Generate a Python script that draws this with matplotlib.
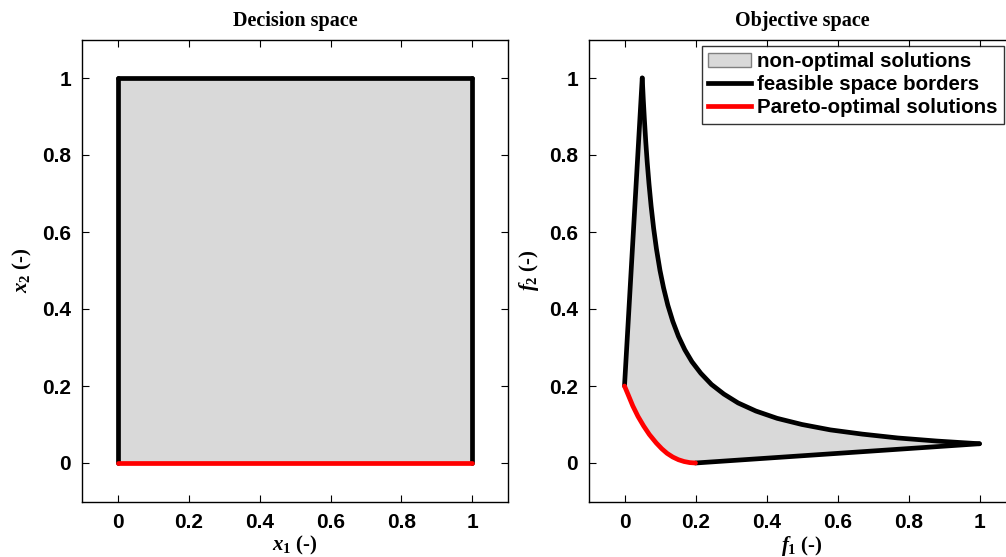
import matplotlib
matplotlib.use("Agg")
import matplotlib.pyplot as plt
from matplotlib.patches import Patch
from matplotlib.lines import Line2D

plt.rcParams['mathtext.fontset'] = 'custom'
plt.rcParams['mathtext.it'] = 'Liberation Serif:bold:italic'
plt.rcParams['mathtext.rm'] = 'Liberation Serif:bold'
plt.rcParams['mathtext.bf'] = 'Liberation Serif:bold'

# ---- Decision space data ----
dec_left_x = [0, 0]
dec_left_y = [0, 1]
dec_top_x = [0, 1]
dec_top_y = [1, 1]
dec_right_x = [1, 1]
dec_right_y = [1, 0]
dec_pareto_x = [0, 1]
dec_pareto_y = [0, 0]

# ---- Objective space data ----
obj_left_f1 = [0.0, 0.05]
obj_left_f2 = [0.2, 1.0]
obj_top_f1 = [0.05, 0.053, 0.056, 0.06, 0.064, 0.069, 0.075, 0.082, 0.09, 0.1,
              0.11, 0.122, 0.136, 0.152, 0.17, 0.19, 0.215, 0.245, 0.28, 0.32,
              0.37, 0.43, 0.5, 0.58, 0.67, 0.77, 0.88, 1.0]
obj_top_f2 = [1.0, 0.943, 0.893, 0.833, 0.781, 0.725, 0.667, 0.61, 0.556, 0.5,
              0.455, 0.41, 0.368, 0.329, 0.294, 0.263, 0.233, 0.204, 0.179, 0.156,
              0.135, 0.116, 0.1, 0.086, 0.075, 0.065, 0.057, 0.05]
obj_bottom_f1 = [1.0, 0.2]
obj_bottom_f2 = [0.05, 0.0]
obj_pareto_f1 = [0.0, 0.01, 0.0235, 0.038, 0.054, 0.07, 0.0895, 0.105, 0.12,
                 0.136, 0.152, 0.168, 0.184, 0.2]
obj_pareto_f2 = [0.2, 0.178, 0.148, 0.121, 0.096, 0.074, 0.052, 0.037, 0.025,
                 0.0155, 0.0085, 0.0038, 0.001, 0.0]

ticks = [0, 0.2, 0.4, 0.6, 0.8, 1]
tick_labels = ['0', '0.2', '0.4', '0.6', '0.8', '1']

GRAY = '#d9d9d9'
LW = 3.4

fig = plt.figure(figsize=(10.06, 5.57), dpi=100)
ax1 = fig.add_axes([82/1006, 1-501.5/557, 426/1006, 462/557])
ax2 = fig.add_axes([589/1006, 1-501.5/557, 426/1006, 462/557])

def style(ax):
    ax.set_xlim(-0.1, 1.1)
    ax.set_ylim(-0.1, 1.1)
    ax.set_xticks(ticks)
    ax.set_yticks(ticks)
    ax.set_xticklabels(tick_labels, fontfamily='Liberation Sans', fontweight='bold', fontsize=15)
    ax.set_yticklabels(tick_labels, fontfamily='Liberation Sans', fontweight='bold', fontsize=15)
    ax.tick_params(direction='in', top=True, right=True, length=5, width=0.8, pad=8)
    for s in ax.spines.values():
        s.set_linewidth(1.0)

lkw = dict(lw=LW, solid_capstyle='round', solid_joinstyle='round')

# Decision space
fx = dec_left_x + dec_top_x[1:] + dec_right_x[1:]
fy = dec_left_y + dec_top_y[1:] + dec_right_y[1:]
ax1.fill(fx, fy, color=GRAY, lw=0)
ax1.plot(dec_left_x, dec_left_y, color='k', **lkw)
ax1.plot(dec_top_x, dec_top_y, color='k', **lkw)
ax1.plot(dec_right_x, dec_right_y, color='k', **lkw)
ax1.plot(dec_pareto_x, dec_pareto_y, color='red', **lkw)
style(ax1)
ax1.set_title('Decision space', fontfamily='Liberation Serif', fontweight='bold', fontsize=14.5, pad=10)
ax1.set_xlabel(r'$x_1$ (-)', fontfamily='Liberation Serif', fontweight='bold', fontsize=15, labelpad=2)
ax1.set_ylabel(r'$x_2$ (-)', fontfamily='Liberation Serif', fontweight='bold', fontsize=15, labelpad=6)

# Objective space
px = obj_left_f1 + obj_top_f1[1:] + obj_bottom_f1[1:] + obj_pareto_f1[::-1][1:]
py = obj_left_f2 + obj_top_f2[1:] + obj_bottom_f2[1:] + obj_pareto_f2[::-1][1:]
ax2.fill(px, py, color=GRAY, lw=0)
ax2.plot(obj_left_f1, obj_left_f2, color='k', **lkw)
ax2.plot(obj_top_f1, obj_top_f2, color='k', **lkw)
ax2.plot(obj_bottom_f1, obj_bottom_f2, color='k', **lkw)
ax2.plot(obj_pareto_f1, obj_pareto_f2, color='red', **lkw)
style(ax2)
ax2.set_title('Objective space', fontfamily='Liberation Serif', fontweight='bold', fontsize=14.5, pad=10)
ax2.set_xlabel(r'$f_1$ (-)', fontfamily='Liberation Serif', fontweight='bold', fontsize=15, labelpad=2)
ax2.set_ylabel(r'$f_2$ (-)', fontfamily='Liberation Serif', fontweight='bold', fontsize=15, labelpad=6)

handles = [Patch(facecolor=GRAY, edgecolor='#7f7f7f', lw=1.0),
           Line2D([], [], color='k', lw=LW),
           Line2D([], [], color='red', lw=LW)]
labels = ['non-optimal solutions', 'feasible space borders', 'Pareto-optimal solutions']
leg = fig.legend(handles, labels, loc='upper right',
                 bbox_to_anchor=(1004/1006, 1-46/557), bbox_transform=fig.transFigure,
                 prop={'family': 'Liberation Sans', 'weight': 'bold', 'size': 14.8},
                 frameon=True, fancybox=False, borderpad=0.3, labelspacing=0.2,
                 handlelength=2.1, handletextpad=0.3, borderaxespad=0)
leg.get_frame().set_edgecolor('k')
leg.get_frame().set_linewidth(1.0)

fig.savefig('out.png', dpi=100)
